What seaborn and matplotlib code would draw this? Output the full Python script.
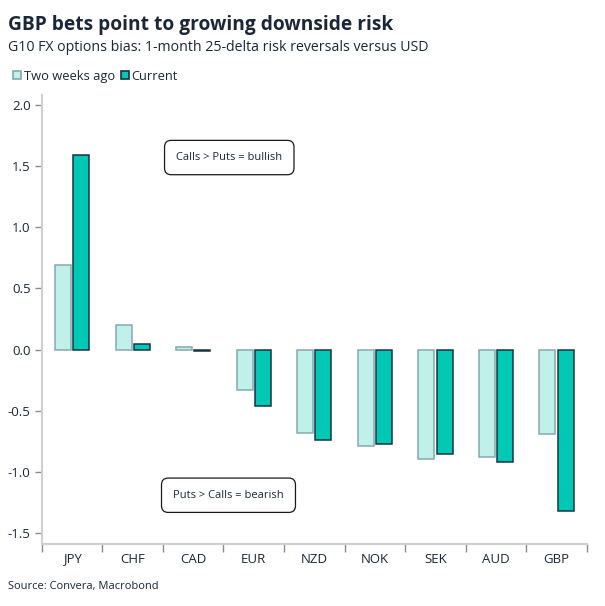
import pandas as pd
import seaborn as sns
import matplotlib.pyplot as plt
from matplotlib.patches import Patch
import numpy as np

currencies = ['JPY', 'CHF', 'CAD', 'EUR', 'NZD', 'NOK', 'SEK', 'AUD', 'GBP']
two_weeks_ago = [0.69, 0.20, 0.02, -0.33, -0.68, -0.79, -0.89, -0.88, -0.69]
current = [1.59, 0.05, -0.015, -0.46, -0.74, -0.77, -0.85, -0.92, -1.32]
series_names = ['Two weeks ago', 'Current']
y_ticks = [-1.5, -1.0, -0.5, 0.0, 0.5, 1.0, 1.5, 2.0]

navy = '#1b2638'
fills = ['#bff0ea', '#00c8b4']
edges = ['#86a9ae', '#163445']

sns.set_style('white')
plt.rcParams['font.family'] = ['Open Sans', 'DejaVu Sans']

df = pd.DataFrame({'ccy': currencies * 2,
                   'series': [series_names[0]] * len(currencies) + [series_names[1]] * len(currencies),
                   'value': two_weeks_ago + current})

fig = plt.figure(figsize=(6.05, 6.06), dpi=100)
ax = fig.add_axes([0.069, 0.102, 0.901, 0.741])

sns.barplot(data=df, x='ccy', y='value', hue='series', hue_order=series_names,
            palette=fills, saturation=1, width=0.6, gap=0.12, legend=False, ax=ax)

for i, cont in enumerate(ax.containers):
    for bar in cont:
        bar.set_edgecolor(edges[i])
        bar.set_linewidth(1.1)

ax.set_xlim(-0.5, len(currencies) - 0.5)
ax.set_ylim(-1.59, 2.08)
ax.set_yticks(y_ticks)
ax.set_yticklabels(['%.1f' % t for t in y_ticks])
ax.set_xlabel('')
ax.set_ylabel('')

# x ticks sit between the categories
ax.set_xticks(np.arange(len(currencies)), labels=currencies, minor=False)
ax.set_xticks(np.arange(len(currencies) + 1) - 0.5, minor=True)
ax.tick_params(axis='x', which='major', length=0, pad=6, labelsize=9.5, labelcolor=navy)
ax.tick_params(axis='x', which='minor', length=6, width=1, color='#8a8a8a', direction='out')
ax.tick_params(axis='y', length=5, width=1, color='#8a8a8a', direction='out', labelsize=9.5, labelcolor=navy, pad=3)
ax.xaxis.set_ticks_position('bottom')
ax.yaxis.set_ticks_position('left')

for s in ['top', 'right']:
    ax.spines[s].set_visible(False)
for s in ['left', 'bottom']:
    ax.spines[s].set_color('#d0d0d0')
    ax.spines[s].set_linewidth(1.5)

box = dict(boxstyle='round,pad=1.05,rounding_size=0.6', fc='white', ec='#1a1a1a', lw=0.9)
ax.text(1.72, 1.57, 'Calls > Puts = bullish', fontsize=8, color=navy, va='center', ha='left', bbox=box)
ax.text(1.67, -1.19, 'Puts > Calls = bearish', fontsize=8, color=navy, va='center', ha='left', bbox=box)

fig.text(0.013, 0.958, 'GBP bets point to growing downside risk', fontsize=13.8, fontweight='bold', color=navy, va='center')
fig.text(0.013, 0.922, 'G10 FX options bias: 1-month 25-delta risk reversals versus USD', fontsize=10.2, color=navy, va='center')
fig.text(0.013, 0.033, 'Source: Convera, Macrobond', fontsize=8, color=navy, va='center')

handles = [Patch(facecolor=fills[i], edgecolor=edges[i], linewidth=1.2, label=series_names[i]) for i in range(2)]
fig.legend(handles=handles, loc='center left', bbox_to_anchor=(0.003, 0.874), ncol=2, frameon=False,
           fontsize=9.3, handlelength=0.6, handleheight=0.6, handletextpad=0.2, columnspacing=0.5,
           labelcolor=navy)

plt.savefig('out.png', dpi=100)
